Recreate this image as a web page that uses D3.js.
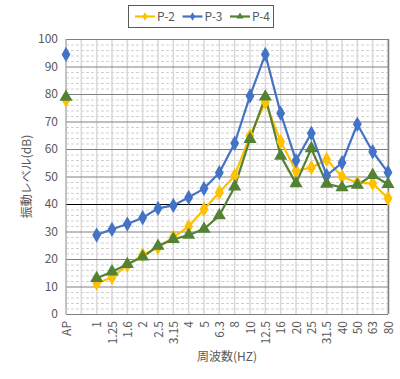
<!DOCTYPE html>
<html>
<head>
<meta charset="utf-8">
<script src="https://cdn.jsdelivr.net/npm/d3@7"></script>
<style>
body { margin: 0; background: #fff; }
svg text { font-family: "Noto Sans CJK JP", Calibri, "Liberation Sans", sans-serif; fill: #595959; }
</style>
</head>
<body>
<svg width="400" height="379"></svg>
<script>
var categories = ["AP", "", "1", "1.25", "1.6", "2", "2.5", "3.15", "4", "5", "6.3", "8",
    "10", "12.5", "16", "20", "25", "31.5", "40", "50", "63", "80"];

var p2 = [77.8, null, 11.2, 13.3, 17.8, 21.5, 24.2, 27.9, 31.8, 38.1, 44.2, 50.3,
    64.8, 77.0, 62.7, 52.1, 53.2, 56.2, 49.9, 47.7, 47.5, 42.1];
var p3 = [94.4, null, 28.7, 30.8, 32.7, 35.0, 38.4, 39.5, 42.4, 45.6, 51.4, 62.1,
    79.3, 94.4, 73.0, 55.8, 65.7, 50.3, 55.0, 69.0, 59.0, 51.5];
var p4 = [78.9, null, 13.0, 15.4, 18.1, 20.8, 24.7, 27.2, 28.7, 30.9, 35.8, 46.3,
    63.6, 79.0, 57.5, 47.5, 60.2, 47.3, 46.0, 46.9, 50.5, 47.2];

var seriesNames = ["P-2", "P-3", "P-4"];
var yTicks = [0, 10, 20, 30, 40, 50, 60, 70, 80, 90, 100];

var svg = d3.select("svg"),
    plotLeft = 66, plotRight = 388, plotTop = 39, plotBottom = 314;

var x = d3.scalePoint()
    .domain(d3.range(categories.length))
    .range([plotLeft, plotRight]);

var y = d3.scaleLinear()
    .domain([0, 100])
    .range([plotBottom, plotTop]);

var colors = { "P-2": "#FFC000", "P-3": "#4472C4", "P-4": "#548235" };
var series = [
    { name: "P-2", values: p2, symbol: d3.symbolDiamond },
    { name: "P-3", values: p3, symbol: d3.symbolDiamond },
    { name: "P-4", values: p4, symbol: d3.symbolTriangle }
];

// minor horizontal gridlines (dashed)
svg.append("g")
    .selectAll("line")
    .data(d3.range(2, 100, 2).filter(function (d) { return d % 10 !== 0; }))
    .enter().append("line")
    .attr("x1", plotLeft).attr("x2", plotRight)
    .attr("y1", function (d) { return y(d) + 0.5; })
    .attr("y2", function (d) { return y(d) + 0.5; })
    .attr("stroke", "#d0d0d0")
    .attr("stroke-dasharray", "3,2");

// vertical gridlines
svg.append("g")
    .selectAll("line")
    .data(d3.range(categories.length))
    .enter().append("line")
    .attr("x1", function (d) { return x(d); })
    .attr("x2", function (d) { return x(d); })
    .attr("y1", plotTop).attr("y2", plotBottom)
    .attr("stroke", "#d9d9d9")
    .attr("stroke-width", 1.5);

// major horizontal gridlines
svg.append("g")
    .selectAll("line")
    .data(yTicks)
    .enter().append("line")
    .attr("x1", plotLeft).attr("x2", plotRight)
    .attr("y1", function (d) { return y(d) + 0.5; })
    .attr("y2", function (d) { return y(d) + 0.5; })
    .attr("stroke", function (d) { return d === 40 ? "#000" : "#808080"; })
    .attr("stroke-width", function (d) { return d === 0 || d === 40 ? 1.2 : 1; });

// axis borders
svg.append("line")
    .attr("x1", plotLeft).attr("x2", plotLeft).attr("y1", plotTop).attr("y2", plotBottom)
    .attr("stroke", "#a6a6a6");
svg.append("line")
    .attr("x1", plotRight + 0.5).attr("x2", plotRight + 0.5).attr("y1", plotTop).attr("y2", plotBottom)
    .attr("stroke", "#808080").attr("stroke-width", 1.5);

// y axis
var yAxis = svg.append("g")
    .attr("transform", "translate(" + plotLeft + ",0)")
    .call(d3.axisLeft(y).tickValues(yTicks).tickSize(0).tickPadding(8));
yAxis.select(".domain").remove();
yAxis.selectAll("text").attr("font-size", 12).style("fill", "#595959");

// x axis
var xAxis = svg.append("g")
    .attr("transform", "translate(0," + plotBottom + ")")
    .call(d3.axisBottom(x).tickFormat(function (i) { return categories[i]; }).tickSize(0));
xAxis.select(".domain").remove();
xAxis.selectAll("text")
    .attr("font-size", 12)
    .style("fill", "#595959")
    .attr("transform", "rotate(-90)")
    .attr("text-anchor", "end")
    .attr("dy", "0.35em")
    .attr("x", -7)
    .attr("y", 0);

// lines
var line = d3.line()
    .defined(function (d) { return d !== null; })
    .x(function (d, i) { return x(i); })
    .y(function (d) { return y(d); });

series.forEach(function (s) {
    // AP point is standalone; line starts at "1"
    var pts = s.values.map(function (v, i) { return i < 2 ? null : v; });
    svg.append("path")
        .datum(pts)
        .attr("fill", "none")
        .attr("stroke", colors[s.name])
        .attr("stroke-width", 2.2)
        .attr("stroke-linejoin", "round")
        .attr("d", line);
});

series.forEach(function (s) {
    svg.append("g")
        .selectAll("path")
        .data(s.values.map(function (v, i) { return { v: v, i: i }; })
            .filter(function (d) { return d.v !== null; }))
        .enter().append("path")
        .attr("transform", function (d) { return "translate(" + x(d.i) + "," + y(d.v) + ")"; })
        .attr("d", d3.symbol().type(s.symbol).size(s.symbol === d3.symbolTriangle ? 75 : 68))
        .attr("fill", colors[s.name]);
});

// legend
svg.append("rect")
    .attr("x", 128.5).attr("y", 5.5)
    .attr("width", 145).attr("height", 22)
    .attr("fill", "#fff").attr("stroke", "#595959");

var legend = svg.append("g")
    .selectAll("g")
    .data(series)
    .enter().append("g")
    .attr("transform", function (d, i) { return "translate(" + (135 + i * 47.5) + ",16.5)"; });

legend.append("line")
    .attr("x1", 0).attr("x2", 20)
    .attr("stroke", function (d) { return colors[d.name]; })
    .attr("stroke-width", 2.2);
legend.append("path")
    .attr("transform", "translate(10,0)")
    .attr("d", function (d) { return d3.symbol().type(d.symbol).size(22)(); })
    .attr("fill", function (d) { return colors[d.name]; });
legend.append("text")
    .attr("x", 22).attr("dy", "0.35em")
    .attr("font-size", 12)
    .text(function (d) { return d.name; });

// axis titles
svg.append("text")
    .attr("transform", "translate(27," + ((plotTop + plotBottom) / 2) + ") rotate(-90)")
    .attr("text-anchor", "middle")
    .attr("dy", "0.35em")
    .attr("font-size", 12)
    .text("振動レベル(dB)");

svg.append("text")
    .attr("x", (plotLeft + plotRight) / 2)
    .attr("y", 357)
    .attr("text-anchor", "middle")
    .attr("dy", "0.35em")
    .attr("font-size", 12)
    .text("周波数(HZ)");
</script>
</body>
</html>
